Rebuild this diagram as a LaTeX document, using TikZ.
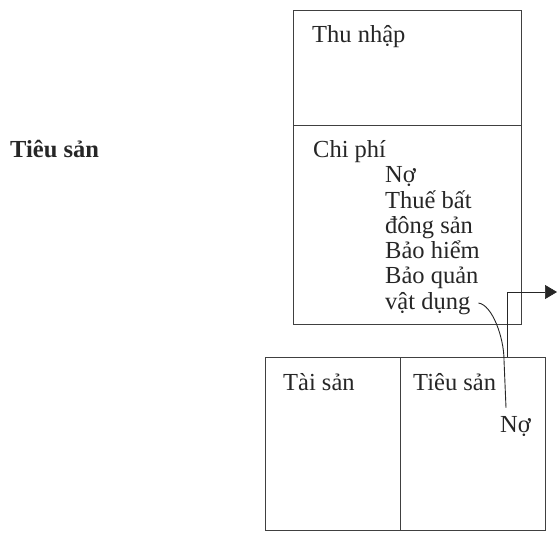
\documentclass[tikz,border=0pt]{standalone}
\usepackage{fontspec}
\setmainfont{Liberation Serif}
\usetikzlibrary{arrows.meta}
\begin{document}
\begin{tikzpicture}[x=1pt,y=-1pt,
  boxcell/.style={draw=black!75,line width=0.7pt,rectangle,inner sep=0pt,anchor=north west},
  txt/.style={anchor=base west,inner sep=0pt,font=\fontsize{24.5}{25}\selectfont,text=black!85},
  link/.style={draw=black!85,line width=0.9pt}]
\useasboundingbox (0,0) rectangle (557,540);
% boxes
\node[boxcell,minimum width=228pt,minimum height=115pt] (inc) at (293,10) {};
\node[boxcell,minimum width=228pt,minimum height=199pt] (exp) at (293,125) {};
\node[boxcell,minimum width=135pt,minimum height=173pt] (asset) at (265,357) {};
\node[boxcell,minimum width=145pt,minimum height=173pt] (liab) at (400,357) {};
% texts
\node[txt] (thu) at (312,43) {Thu nhập};
\node[txt] (chi) at (313,158) {Chi phí};
\node[txt] (l1) at (385,183) {Nợ};
\node[txt] (l2) at (385,208.2) {Thuế bất};
\node[txt] (l3) at (385,233.4) {đông sản};
\node[txt] (l4) at (385,258.6) {Bảo hiểm};
\node[txt] (l5) at (385,283.8) {Bảo quản};
\node[txt] (l6) at (385,309) {vật dụng};
\node[txt,font=\fontsize{24.5}{25}\selectfont\bfseries] (tieuL) at (10,158) {Tiêu sản};
\node[txt] (tai) at (283,390) {Tài sản};
\node[txt] (tieuR) at (413,390) {Tiêu sản};
\node[txt] (no2) at (500,432) {Nợ};
\coordinate (arrtip) at (557,292);
% connectors
\draw[link] ([xshift=8pt,yshift=6pt]l6.base east) .. controls +(14,2) and +(0,-22) .. ([xshift=4pt]no2.north west |- 0,360) -- ([xshift=6pt,yshift=8pt]no2.north west);
\draw[link,line width=0.7pt,-{Triangle[length=12pt,width=14pt]}] ([xshift=-38pt]liab.north east) |- (arrtip);
\end{tikzpicture}
\end{document}
